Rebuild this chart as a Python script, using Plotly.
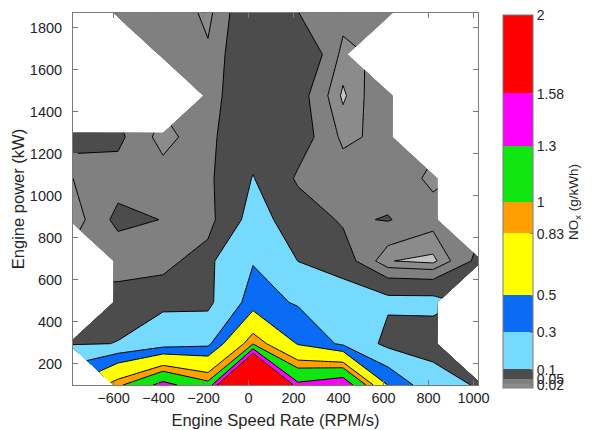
import plotly.graph_objects as go

# ---------------- data ----------------
speed_rate = [-780, -580, -380, -180, 20, 220, 420, 620, 820, 1020]          # RPM/s
power_kw = [100, 296.7, 493.3, 690, 886.7, 1083.3, 1280, 1476.7, 1673.3, 1870]  # kW
N = None
# NOx (g/kWh) rows, one per power value (bottom -> top), columns follow speed_rate
nox_p100 = [N, 0.95, 1.40, 1.08, 3.58, 1.36, 1.53, 0.49, 0.15, 0.09]
nox_p297 = [0.09, 0.102, 0.20, 0.25, 0.98, 0.48, 0.26, 0.055, 0.06, N]
nox_p493 = [N, 0.075, 0.07, 0.06, 0.38, 0.28, 0.14, 0.12, 0.12, N]
nox_p690 = [N, 0.025, 0.04, 0.066, 0.29, 0.098, 0.07, 0.001, -0.006, 0.06]
nox_p887 = [0.005, 0.06, 0.049, 0.036, 0.122, 0.074, 0.045, 0.052, 0.03, N]
nox_p1083 = [0.02, 0.035, 0.035, 0.042, 0.102, 0.044, 0.035, 0.035, 0.015, N]
nox_p1280 = [0.07, 0.058, 0.008, 0.0425, 0.08, 0.07, 0.014, 0.028, N, N]
nox_p1477 = [N, N, N, 0.034, 0.085, 0.067, -0.004, 0.047, N, N]
nox_p1673 = [N, N, 0.03, 0.025, 0.091, 0.095, 0.012, N, N, N]
nox_p1870 = [N, 0.03, 0.048, 0.012, 0.09, 0.0505, 0.03, 0.025, N, N]

levels = [0, 0.02, 0.05, 0.1, 0.3, 0.5, 0.83, 1.0, 1.3, 1.58]
cbar_ticks = [0.02, 0.05, 0.1, 0.3, 0.5, 0.83, 1, 1.3, 1.58, 2]
cbar_labels = ["0.02", "0.05", "0.1", "0.3", "0.5", "0.83", "1", "1.3", "1.58", "2"]

# colours: below lowest level, then one per band above each level
band_colors = ["#c4c4c4", "#8b8b8b", "#808080", "#4c4c4c", "#75dafe",
               "#0a6cf5", "#ffff00", "#ffa000", "#10e610", "#ff00ff", "#ff0000"]

z = [nox_p100, nox_p297, nox_p493, nox_p690, nox_p887,
     nox_p1083, nox_p1280, nox_p1477, nox_p1673, nox_p1870]

FONT = "Liberation Sans, Arial, Helvetica, sans-serif"
TXT = "#262626"
FRAME = "#7a7a7a"


def band_color(v):
    for i in range(len(levels) - 1, -1, -1):
        if v >= levels[i]:
            return band_colors[i + 1]
    return band_colors[0]


# fine uniform levels whose fill colours step at the (non-uniform) real levels
step = 0.01
nlev = int(round(levels[-1] / step)) + 1
fill_scale = [[0.0, band_colors[0]]] + [
    [(k + 1) / nlev, band_color((k + 0.5) * step)] for k in range(nlev)]

fig = go.Figure()

fig.add_trace(go.Contour(
    x=speed_rate, y=power_kw, z=z,
    autocontour=False,
    contours=dict(start=0, end=levels[-1], size=step, coloring="fill", showlines=False),
    colorscale=fill_scale, showscale=False, connectgaps=False,
    line=dict(width=0, smoothing=0), hoverinfo="skip"))

for lv in levels:
    fig.add_trace(go.Contour(
        x=speed_rate, y=power_kw, z=z,
        autocontour=False,
        contours=dict(start=lv, end=lv, size=1, coloring="none", showlines=True),
        line=dict(color="black", width=1, smoothing=0),
        showscale=False, connectgaps=False, hoverinfo="skip"))

# colour bar (linear 0..2 with stepped colours)
bounds = [0] + levels[1:] + [2]
cb_scale = []
for i in range(len(bounds) - 1):
    c = band_colors[i + 1]
    cb_scale.append([bounds[i] / 2, c])
    cb_scale.append([bounds[i + 1] / 2, c])

fig.add_trace(go.Heatmap(
    z=[[0, 2]], x=[-5000, -4900], y=[-5000],
    zmin=0, zmax=2, colorscale=cb_scale, showscale=True, hoverinfo="skip",
    colorbar=dict(
        x=1.062, xanchor="left", xpad=0, y=0.492, yanchor="middle", ypad=0,
        len=1.003, lenmode="fraction", thickness=30, thicknessmode="pixels",
        outlinewidth=1, outlinecolor=FRAME,
        tickvals=cbar_ticks, ticktext=cbar_labels,
        ticks="inside", ticklen=3, tickcolor=FRAME,
        tickfont=dict(family=FONT, size=14, color=TXT),
        title=dict(text="NO<sub>x</sub> (g/kWh)", side="right",
                   font=dict(family=FONT, size=13.5, color=TXT)))))

axis_common = dict(
    showgrid=False, zeroline=False, showline=True, linecolor=FRAME, linewidth=1,
    mirror="ticks", ticks="inside", ticklen=5, tickcolor=FRAME,
    tickfont=dict(family=FONT, size=14.5, color=TXT))

fig.update_xaxes(range=[-780, 1020], tickvals=list(range(-600, 1001, 200)),
                 title=dict(text="Engine Speed Rate (RPM/s)", standoff=9,
                            font=dict(family=FONT, size=16.5, color=TXT)),
                 **axis_common)
fig.update_yaxes(range=[100, 1870], tickvals=list(range(200, 1801, 200)),
                 ticklabelstandoff=7,
                 title=dict(text="Engine power (kW)", standoff=1,
                            font=dict(family=FONT, size=16.5, color=TXT)),
                 **axis_common)

fig.update_layout(
    width=605, height=430,
    margin=dict(l=73, r=127, t=13, b=45, autoexpand=False),
    paper_bgcolor="white", plot_bgcolor="white",
    showlegend=False)

fig.write_html("out.html", config={"displayModeBar": False},
               post_script="document.body.style.margin='0';document.body.style.overflow='hidden';")
